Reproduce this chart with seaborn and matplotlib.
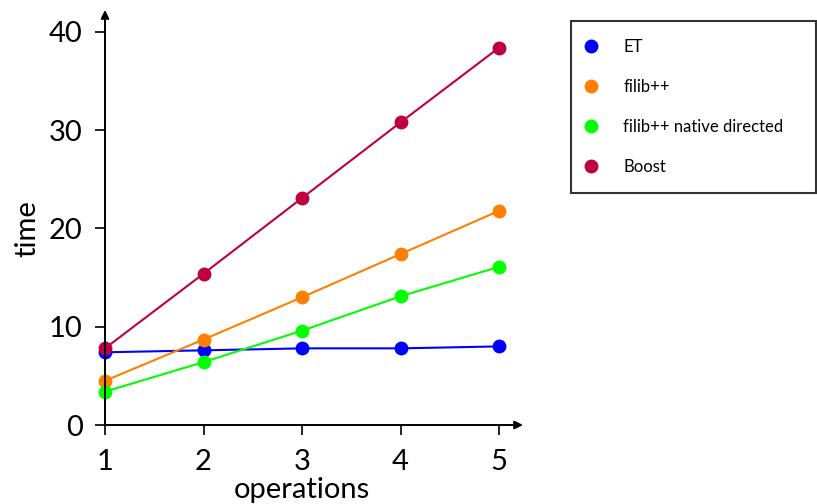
import numpy as np
import pandas as pd
import matplotlib
matplotlib.use("Agg")
import matplotlib.pyplot as plt
import seaborn as sns
from matplotlib.lines import Line2D

# data
operations = [1, 2, 3, 4, 5]
et = [7.4, 7.6, 7.8, 7.8, 8.0]
filib = [4.5, 8.7, 13.0, 17.4, 21.8]
filib_native = [3.4, 6.4, 9.6, 13.1, 16.1]
boost = [7.8, 15.4, 23.1, 30.8, 38.4]

series_names = ["ET", "filib++", "filib++ native directed", "Boost"]
series_values = [et, filib, filib_native, boost]
colors = ["#0000FF", "#FF8000", "#00FF00", "#BF0040"]

sns.set_style("white")
plt.rcParams["font.family"] = ["Lato", "DejaVu Sans"]
plt.rcParams["text.color"] = "black"
plt.rcParams["axes.labelcolor"] = "black"
plt.rcParams["xtick.color"] = "black"
plt.rcParams["ytick.color"] = "black"

fig = plt.figure(figsize=(8.17, 5.04), dpi=100)
ax = fig.add_axes([105 / 817, 1 - 425 / 504, 394 / 817, 393 / 504])

for name, vals, col in zip(series_names, series_values, colors):
    sns.lineplot(x=operations, y=vals, ax=ax, color=col, marker="o",
                 markersize=10, markeredgewidth=0, linewidth=1.5,
                 clip_on=False, label=name, zorder=3)

ax.set_xlim(1, 5)
ax.set_ylim(0, 40)
ax.set_xticks(operations)
ax.set_yticks([0, 10, 20, 30, 40])
ax.tick_params(axis="both", direction="out", length=7, width=1.2,
               color="black", labelcolor="black", labelsize=21,
               bottom=True, left=True)
ax.tick_params(axis="x", pad=10)
ax.tick_params(axis="y", pad=9)

for s in ax.spines.values():
    s.set_visible(False)

# axis lines with arrow heads
ax.annotate("", xy=(1 + 24 / 394, 0), xytext=(0, 0), xycoords="axes fraction",
            arrowprops=dict(arrowstyle="-|>", lw=1.4, color="black",
                            mutation_scale=12, shrinkA=0, shrinkB=0))
ax.annotate("", xy=(0, 1 + 22 / 393), xytext=(0, 0), xycoords="axes fraction",
            arrowprops=dict(arrowstyle="-|>", lw=1.4, color="black",
                            mutation_scale=12, shrinkA=0, shrinkB=0))

ax.set_xlabel("operations", fontsize=21, labelpad=2, color="black")
ax.set_ylabel("time", fontsize=21, labelpad=6, color="black")

ax.get_legend().remove()
handles = [Line2D([0], [0], linestyle="none", marker="o", markersize=10,
                  markeredgewidth=0, color=c) for c in colors]
leg = fig.legend(handles, series_names, loc="upper left",
                 bbox_to_anchor=(571 / 817, 1 - 21 / 504, 245 / 817, 0),
                 mode="expand", fontsize=12, frameon=True, fancybox=False,
                 edgecolor="black", labelspacing=1.43, handlelength=0.2,
                 handletextpad=1.83, borderpad=1.1, borderaxespad=0)
leg.get_frame().set_linewidth(1.5)
for t in leg.get_texts():
    t.set_color("black")

fig.savefig("out.png", dpi=100)
